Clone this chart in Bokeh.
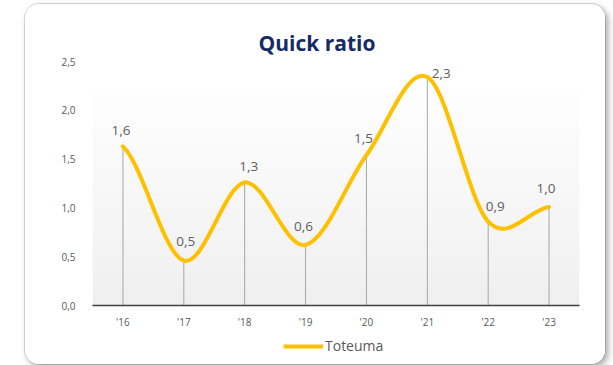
import numpy as np
from bokeh.plotting import figure
from bokeh.layouts import column
from bokeh.models import (Range1d, FixedTicker, ColumnDataSource,
                          Legend, LegendItem, BoxAnnotation)
from bokeh.core.properties import value
from bokeh.embed import file_html
from bokeh.resources import INLINE

# ---- data -------------------------------------------------------------
years = ["'16", "'17", "'18", "'19", "'20", "'21", "'22", "'23"]
quick_ratio = [1.63, 0.46, 1.26, 0.62, 1.54, 2.34, 0.86, 1.01]
y_ticks = [0.0, 0.5, 1.0, 1.5, 2.0, 2.5]
y_tick_labels = ["0,0", "0,5", "1,0", "1,5", "2,0", "2,5"]
series_name = "Toteuma"
title_text = "Quick ratio"

# small pixel nudges for the value labels
label_dx = [-2, 2, 4, -2, -3, 14, 7, -3]
label_dy = [-16, -19, -16, -18, -17, -4, -15, -18]

# ---- styling ----------------------------------------------------------
FONT = "Open Sans"
GOLD = "#FFC000"
TEXT_GREY = "#595959"
NAVY = "#172b63"

xs = np.arange(len(years), dtype=float)
ys = np.array(quick_ratio, dtype=float)

# smoothed line: cubic Bezier segments with Catmull-Rom tangents
ext = np.concatenate([[ys[0]], ys, [ys[-1]]])
tang = (ext[2:] - ext[:-2]) / 2.0
tang[0] = (ys[1] - ys[0]) / 2.0
tang[-1] = (ys[-1] - ys[-2]) / 2.0
seg = ColumnDataSource(dict(
    x0=xs[:-1], y0=ys[:-1], x1=xs[1:], y1=ys[1:],
    cx0=xs[:-1] + 1 / 3, cy0=ys[:-1] + tang[:-1] / 3,
    cx1=xs[1:] - 1 / 3, cy1=ys[1:] - tang[1:] / 3,
))

pts = ColumnDataSource(dict(
    x=xs, y=ys, base=np.zeros_like(ys),
    txt=[f"{v:.1f}".replace(".", ",") for v in quick_ratio],
    dx=label_dx, dy=label_dy,
))

# ---- main chart ---------------------------------------------------------
p = figure(frame_width=487, frame_height=244,
           x_range=Range1d(-0.5, len(years) - 0.5),
           y_range=Range1d(y_ticks[0], y_ticks[-1]),
           output_backend="svg", toolbar_location=None,
           min_border_left=67, min_border_right=26,
           min_border_top=57, min_border_bottom=29)
p.border_fill_color = "white"
p.background_fill_color = "white"
p.outline_line_color = None
p.xgrid.visible = False
p.ygrid.visible = False

# title, left-aligned from the frame edge
p.title.text = title_text
p.title.align = "left"
p.title.offset = 166
p.title.standoff = 10
p.title.text_font = FONT
p.title.text_font_size = "21px"
p.title.text_font_style = "bold"
p.title.text_color = NAVY

# plot-area gradient (white at top fading to light grey at the axis)
g_top = 2.21
n_bands = 30
for k in range(n_bands):
    frac = (k + 0.5) / n_bands
    shade = int(round(239 + (254 - 239) * frac))
    p.add_layout(BoxAnnotation(bottom=g_top * k / n_bands,
                               top=g_top * (k + 1) / n_bands,
                               fill_color=(shade, shade, shade), fill_alpha=1.0,
                               line_color=None, level="underlay"))

# drop lines from each point to the axis
p.segment(x0="x", y0="base", x1="x", y1="y", source=pts,
          line_color="#a6a6a6", line_width=1)

curve = p.bezier(x0="x0", y0="y0", x1="x1", y1="y1",
                 cx0="cx0", cy0="cy0", cx1="cx1", cy1="cy1", source=seg,
                 line_color=GOLD, line_width=4, line_cap="round")

p.text(x="x", y="y", text="txt", source=pts, x_offset="dx", y_offset="dy",
       text_font=value(FONT), text_font_size="13.5px", text_color="#606060",
       text_align="center", text_baseline="alphabetic")

# axes
p.xaxis.ticker = FixedTicker(ticks=list(range(len(years))))
p.xaxis.major_label_overrides = {i: y for i, y in enumerate(years)}
p.xaxis.axis_line_color = "#404040"
p.xaxis.axis_line_width = 1.5
p.xaxis.major_tick_line_color = None
p.xaxis.minor_tick_line_color = None
p.xaxis.major_label_standoff = 3
p.xaxis.major_label_text_font = FONT
p.xaxis.major_label_text_font_size = "10px"
p.xaxis.major_label_text_color = TEXT_GREY

p.yaxis.ticker = FixedTicker(ticks=y_ticks)
p.yaxis.major_label_overrides = {t: l for t, l in zip(y_ticks, y_tick_labels)}
p.yaxis.axis_line_color = None
p.yaxis.major_tick_line_color = None
p.yaxis.minor_tick_line_color = None
p.yaxis.major_label_standoff = 11
p.yaxis.major_label_text_font = FONT
p.yaxis.major_label_text_font_size = "10px"
p.yaxis.major_label_text_color = TEXT_GREY

# ---- legend strip under the chart -----------------------------------------
lf = figure(width=580, height=30, x_range=Range1d(0, 1), y_range=Range1d(0, 1),
            output_backend="svg", toolbar_location=None,
            min_border_left=67, min_border_right=26,
            min_border_top=0, min_border_bottom=0,
            x_axis_location=None, y_axis_location=None)
lf.border_fill_color = "white"
lf.background_fill_color = "white"
lf.outline_line_color = None
lf.grid.visible = False
# legend key line, kept outside the visible range of this strip
key = lf.line(x=[-5, -4], y=[-5, -5], line_color=GOLD, line_width=4)

legend = Legend(items=[LegendItem(label=series_name, renderers=[key])],
                orientation="horizontal", location=(191, 9),
                border_line_color=None, background_fill_alpha=0,
                padding=0, margin=0, glyph_width=40, glyph_height=18,
                label_standoff=2, label_text_font=FONT,
                label_text_font_size="14px", label_text_color=TEXT_GREY)
lf.add_layout(legend)

card = column(p, lf, spacing=0, margin=(4, 8, 1, 25),
              styles={"border-radius": "14px", "overflow": "hidden",
                      "background": "white",
                      "box-shadow": "3px 3px 7px rgba(0,0,0,0.35), 0 0 0 1px #dcdcdc"})

open("out.html", "w").write(file_html(card, INLINE))
